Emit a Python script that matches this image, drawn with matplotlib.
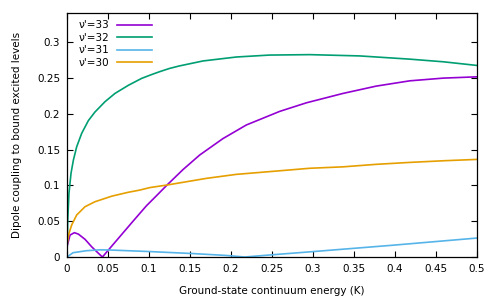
import matplotlib
matplotlib.use('Agg')
import matplotlib.pyplot as plt
from matplotlib.ticker import MultipleLocator, FormatStrFormatter

# values
x33 = [0, 0.0037, 0.009, 0.0139, 0.022, 0.030, 0.0383, 0.0432, 0.0488, 0.0602, 0.0805,
       0.0968, 0.109, 0.122, 0.1415, 0.1618, 0.1902, 0.2187, 0.2594, 0.292, 0.3366, 0.377,
       0.418, 0.459, 0.5]
y33 = [0.0144, 0.0307, 0.034, 0.032, 0.0247, 0.0144, 0.0052, 0.0, 0.0075, 0.0228, 0.050,
       0.0715, 0.0855, 0.1006, 0.1222, 0.1425, 0.1655, 0.1845, 0.2035, 0.2155, 0.2286, 0.2388,
       0.2462, 0.25, 0.2518]

x32 = [0, 0.0009, 0.0024, 0.0049, 0.0078, 0.0118, 0.0179, 0.026, 0.034, 0.0463, 0.0585,
       0.0749, 0.091, 0.1033, 0.113, 0.125, 0.137, 0.166, 0.2066, 0.247, 0.296, 0.357,
       0.418, 0.459, 0.5]
y32 = [0, 0.0517, 0.089, 0.117, 0.1355, 0.154, 0.1728, 0.1905, 0.2025, 0.217, 0.2286,
       0.240, 0.2496, 0.255, 0.259, 0.2635, 0.267, 0.274, 0.2795, 0.2822, 0.2828, 0.281,
       0.2765, 0.2728, 0.2677]

x31 = [0, 0.0073, 0.0237, 0.04, 0.052, 0.1009, 0.1537, 0.194, 0.2167, 0.25, 0.296,
       0.3976, 0.5]
y31 = [0, 0.006, 0.0088, 0.0100, 0.0098, 0.0076, 0.0048, 0.0022, 0.0, 0.0031, 0.0072,
       0.0165, 0.0265]

x30 = [0, 0.0024, 0.0057, 0.0118, 0.022, 0.034, 0.0545, 0.0749, 0.0887, 0.1009, 0.122,
       0.17, 0.2066, 0.2594, 0.296, 0.3366, 0.377, 0.418, 0.459, 0.5]
y30 = [0.0168, 0.033, 0.0447, 0.0587, 0.0703, 0.0772, 0.085, 0.0905, 0.0935, 0.097, 0.1006,
       0.1099, 0.1155, 0.1205, 0.124, 0.126, 0.1295, 0.1322, 0.1345, 0.1364]

series = [("ν'=33", x33, y33, '#9400d3'),
          ("ν'=32", x32, y32, '#009e73'),
          ("ν'=31", x31, y31, '#56b4e9'),
          ("ν'=30", x30, y30, '#e69f00')]

fs = 7.5
plt.rcParams['font.family'] = ['DejaVu Sans']

fig = plt.figure(figsize=(5, 3), dpi=100)
ax = fig.add_axes([0.134, 0.1433, 0.82, 0.8134])

for label, xs, ys, c in series:
    ax.plot(xs, ys, color=c, lw=1.2, label=label)

ax.set_xlim(0, 0.5)
ax.set_ylim(0, 0.341)
ax.xaxis.set_major_locator(MultipleLocator(0.05))
ax.yaxis.set_major_locator(MultipleLocator(0.05))
ax.xaxis.set_major_formatter(FormatStrFormatter('%g'))
ax.yaxis.set_major_formatter(FormatStrFormatter('%g'))
ax.tick_params(direction='in', length=4, width=0.8, top=True, right=True,
               labelsize=fs, pad=5)
for s in ax.spines.values():
    s.set_linewidth(0.9)

ax.set_xlabel('Ground-state continuum energy (K)', fontsize=fs, labelpad=8.5)
ax.set_ylabel('Dipole coupling to bound excited levels', fontsize=fs, labelpad=11)

leg = ax.legend(loc='upper left', frameon=False, fontsize=fs, markerfirst=False,
                handlelength=3.3, handletextpad=0.8, labelspacing=0.25,
                borderaxespad=0.3, bbox_to_anchor=(0.01, 1.0))

fig.savefig('out.png', dpi=100)
